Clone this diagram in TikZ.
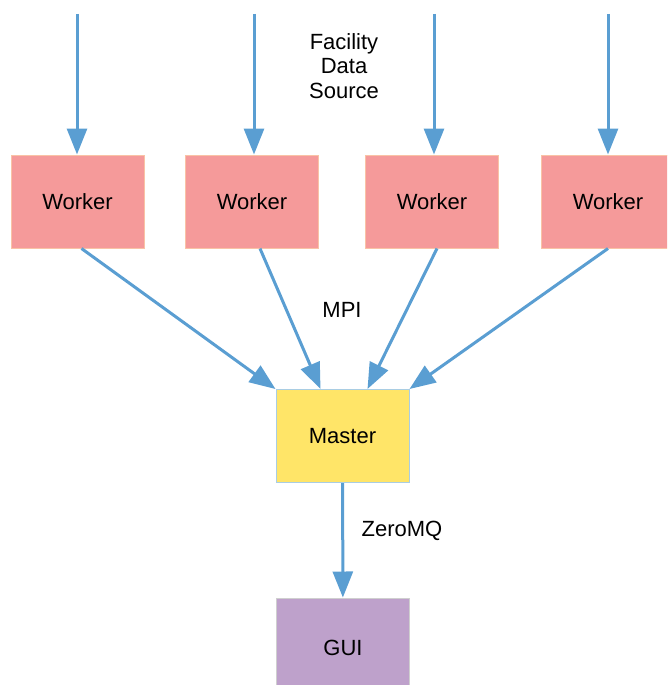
\documentclass[tikz,border=0pt]{standalone}
\usepackage{fontspec}
\setmainfont{Liberation Sans}
\usetikzlibrary{arrows.meta}

\definecolor{workerfill}{HTML}{F59A9A}
\definecolor{workerline}{HTML}{F9C3A6}
\definecolor{masterfill}{HTML}{FFE568}
\definecolor{masterline}{HTML}{A9CDE3}
\definecolor{guifill}{HTML}{BEA1CB}
\definecolor{guiline}{HTML}{CFCFCF}
\definecolor{flow}{HTML}{5A9ED2}

\tikzset{
  box/.style={minimum width=133pt, minimum height=93pt, inner sep=0pt,
    line width=1pt, font=\fontsize{22}{26}\selectfont},
  worker/.style={box, fill=workerfill, draw=workerline},
  master/.style={box, fill=masterfill, draw=masterline},
  gui/.style={box, fill=guifill, draw=guiline, minimum height=100pt},
  label/.style={font=\fontsize{22}{24.5}\selectfont, align=center},
  link/.style={draw=flow, line width=3pt,
    -{Triangle[length=26pt,width=20pt]}}
}

\begin{document}
\begin{tikzpicture}[x=1pt,y=-1pt]
  \useasboundingbox (0,0) rectangle (667,685);
  \begin{scope}
    \clip (0,0) rectangle (667,685);
    \draw
      (77.5,201.5) node[worker] (w1){Worker}
      (252,201.5) node[worker] (w2){Worker}
      (432,201.5) node[worker] (w3){Worker}
      (608,201.5) node[worker] (w4){Worker}
      (342.5,436) node[master] (m){Master}
      (343,648) node[gui] (g){GUI};
  \end{scope}
  \coordinate (s1) at (77,14);
  \coordinate (s2) at (254,14);
  \coordinate (s3) at (434,14);
  \coordinate (s4) at (608,14);
  \node[label] (src) at (344,66) {Facility\\Data\\Source};
  \node[label] (mpi) at (342,310) {MPI};
  \node[label] (zmq) at (402,531) {ZeroMQ};
  \begin{scope}[link]
    \draw (s1) to (w1.north -| s1);
    \draw (s2) to (w2.north -| s2);
    \draw (s3) to (w3.north -| s3);
    \draw (s4) to (w4.north -| s4);
    \draw ([xshift=4pt]w1.south) to (m.north west);
    \draw ([xshift=8pt]w2.south) to ([xshift=-22pt]m.north);
    \draw ([xshift=5pt]w3.south) to ([xshift=25pt]m.north);
    \draw (w4.south) to (m.north east);
    \draw (m) to (g);
  \end{scope}
\end{tikzpicture}
\end{document}
